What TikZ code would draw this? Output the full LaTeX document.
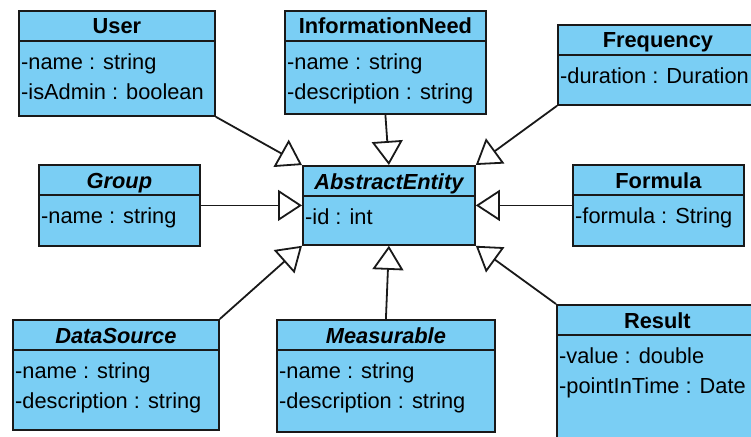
\documentclass[tikz,border=0pt]{standalone}
\usepackage{fontspec}
\setmainfont{Liberation Sans}
\usepackage{xcolor}
\usetikzlibrary{arrows.meta}

\definecolor{classblue}{RGB}{122,206,244}

% one UML class: name, x, y, width, height, title, attributes
\newcommand{\umlclass}[7]{%
  \node[classbox, minimum width=#4pt, minimum height=#5pt, anchor=north west] (#1) at (#2,#3) {};
  \draw[classline] ([yshift=-31pt]#1.north west) -- ([yshift=-31pt]#1.north east);
  \node[classtitle] (#1-title) at ([yshift=-24pt]#1.north) {#6};
  \node[classattr] (#1-attr) at ([xshift=3pt,yshift=-43.5pt]#1.north west) {#7};
}

\begin{document}
\begin{tikzpicture}[x=1pt,y=-1pt,
    classbox/.style={draw=black!90, line width=1.8pt, fill=classblue, rectangle, inner sep=0pt},
    classline/.style={draw=black!90, line width=1.8pt},
    classtitle/.style={font=\fontsize{21.8}{26}\selectfont\bfseries, anchor=base, inner sep=0pt},
    classattr/.style={font=\fontsize{21.8}{30}\selectfont, align=left, anchor=north west, inner sep=0pt},
    inherit/.style={draw=black!90, line width=1.8pt,
      -{Triangle[open, length=24pt, width=31pt, fill=white]}}]
  \useasboundingbox (0,0) rectangle (751,436);
  \clip (0,0) rectangle (751,436);

  % classes
  \umlclass{user}{18}{10}{196}{105}{User}{-name : string\\-isAdmin : boolean}
  \umlclass{infoneed}{284}{10}{201}{103}{InformationNeed}{-name : string\\-description : string}
  \umlclass{frequency}{557}{24}{200}{80}{Frequency}{-duration : Duration}
  \umlclass{group}{38}{164}{161}{81}{\itshape Group}{-name : string}
  \umlclass{abstract}{302}{165}{172}{79}{\itshape AbstractEntity}{-id : int}
  \umlclass{formula}{572}{164}{171}{81}{Formula}{-formula : String}
  \umlclass{datasource}{12}{319}{206}{110}{\itshape DataSource}{-name : string\\-description : string}
  \umlclass{measurable}{276}{319}{218}{112}{\itshape Measurable}{-name : string\\-description : string}
  \umlclass{result}{556}{304}{201}{150}{Result}{-value : double\\-pointInTime : Date}

  % generalisations
  \draw[inherit] (user.south east) -- (abstract.north west);
  \draw[inherit] (infoneed.south) -- (abstract.north);
  \draw[inherit] (frequency.south west) -- (abstract.north east);
  \draw[inherit] (group.east) -- (abstract.west);
  \draw[inherit] (formula.west) -- (abstract.east);
  \draw[inherit] (datasource.north east) -- (abstract.south west);
  \draw[inherit] (measurable.north) -- (abstract.south);
  \draw[inherit] (result.north west) -- (abstract.south east);
\end{tikzpicture}
\end{document}
